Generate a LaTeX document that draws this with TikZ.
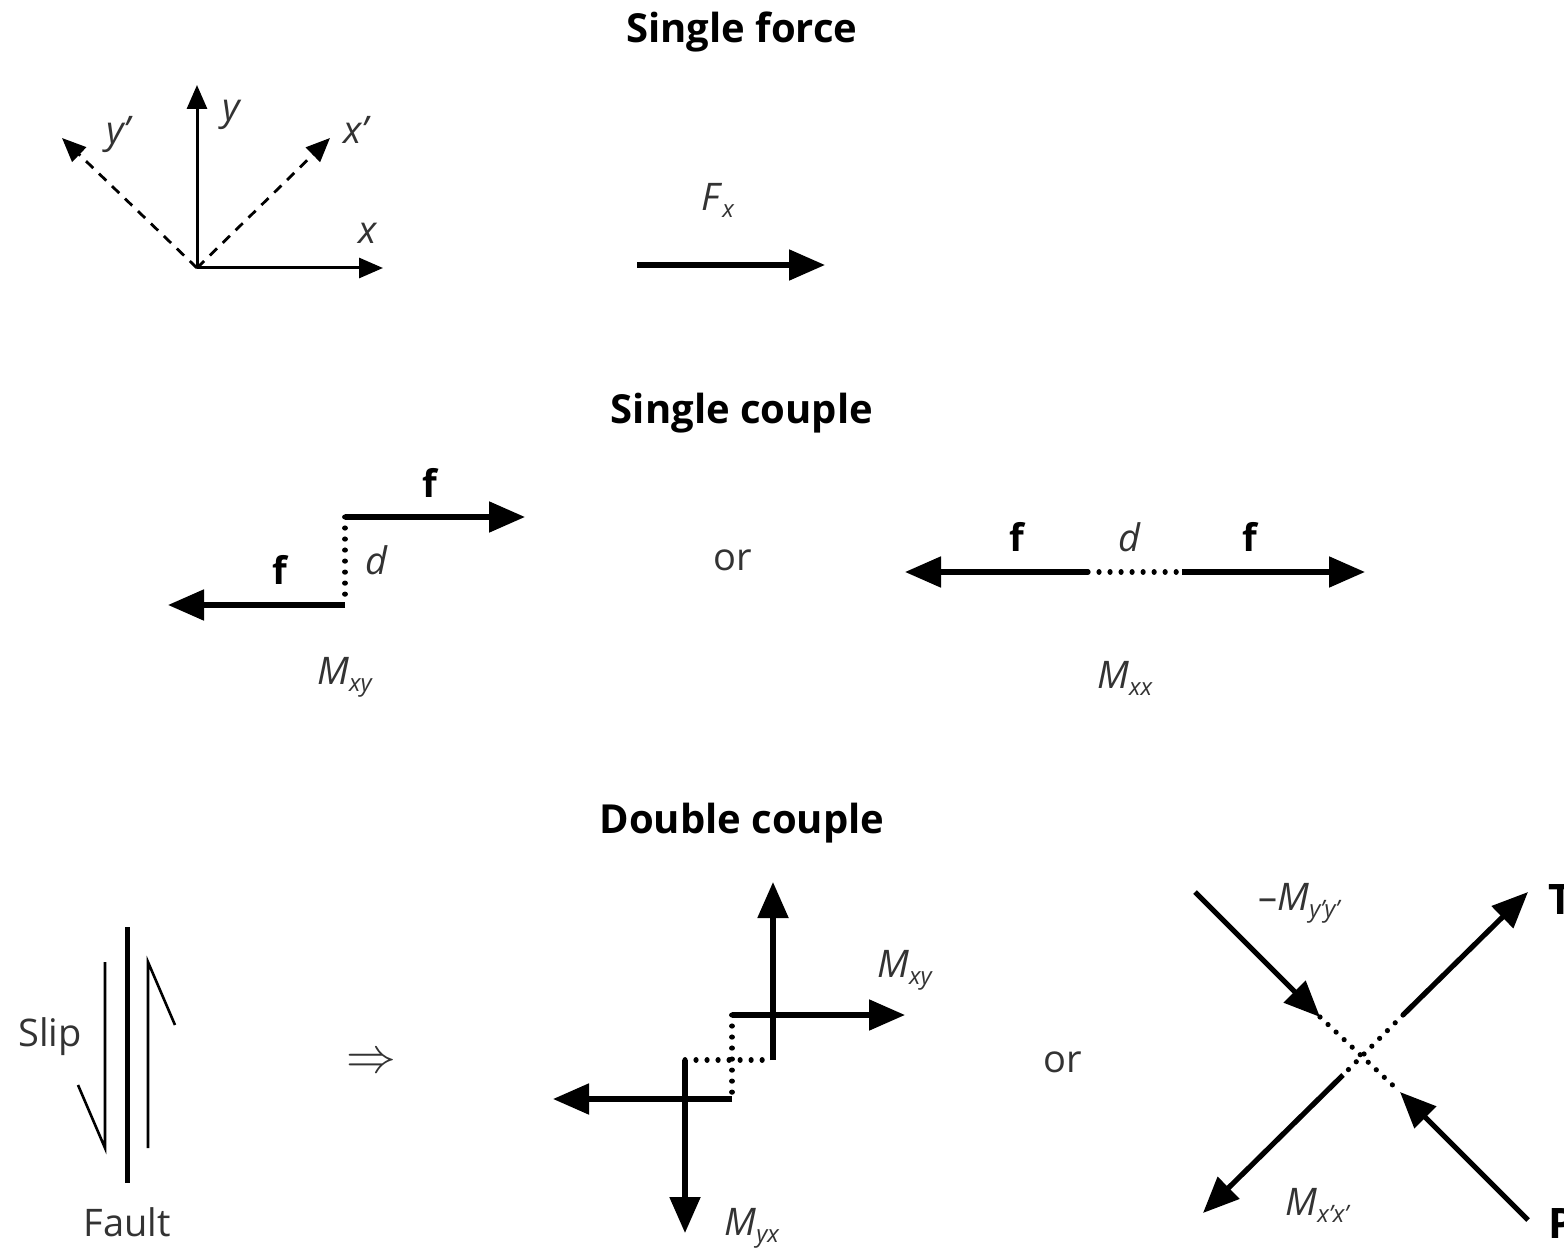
\documentclass[tikz,border=0pt]{standalone}
\usepackage{fontspec}
\setmainfont{Open Sans}
\usetikzlibrary{arrows.meta}
\newcommand{\lbsub}[2]{\textit{#1}\raisebox{-0.35ex}{\fontsize{12}{12}\selectfont\textit{#2}}}
\begin{document}
\begin{tikzpicture}[x=0.5pt,y=-0.5pt,
  title/.style={font=\fontsize{20}{24}\selectfont\bfseries, text=black},
  lab/.style={font=\fontsize{19}{22}\selectfont, text=black!80, inner sep=1pt},
  flab/.style={font=\fontsize{19}{22}\selectfont\bfseries, text=black, inner sep=1pt},
  force/.style={line width=2.6pt, -{Triangle[length=18pt,width=15pt]}},
  axis/.style={line width=1.5pt, -{Triangle[length=12pt,width=10pt]}},
  daxis/.style={line width=1.4pt, dash pattern=on 5pt off 4pt, -{Triangle[length=12pt,width=10pt]}},
  dots/.style={line width=2.6pt, line cap=round, dash pattern=on 0.01pt off 5.5pt},
  fthin/.style={line width=1.3pt},
  fthick/.style={line width=2.5pt}]
\useasboundingbox (0,0) rectangle (1564,1251);
\fill[white] (0,0) rectangle (1564,1251);

% titles
\node[title] (t1) at (742,32) {Single force};
\node[title] (t2) at (742,413) {Single couple};
\node[title] (t3) at (742,823) {Double couple};

% axes
\coordinate (o) at (197,268);
\coordinate (ye) at (197,85);
\coordinate (xe) at (383,268);
\coordinate (ype) at (62,138);
\coordinate (xpe) at (330,138);
\draw[axis] (o) -- (ye);
\draw[axis] (o) -- (xe);
\draw[daxis] (o) -- (ype);
\draw[daxis] (o) -- (xpe);
\node[lab] (ly) at (232,115) {\textit{y}};
\node[lab] (lyp) at (120,135) {\textit{y’}};
\node[lab] (lxp) at (357,130) {\textit{x’}};
\node[lab] (lx) at (368,233) {\textit{x}};

% single force
\coordinate (fa) at (637,265);
\coordinate (fb) at (825,265);
\draw[force] (fa) -- (fb);
\node[lab] (lfx) at (718,200) {\lbsub{F}{x}};

% single couple left
\coordinate (c1) at (345,517);
\coordinate (c1e) at (525,517);
\coordinate (c2) at (345,605);
\coordinate (c2e) at (168,605);
\draw[force] (c1) -- (c1e);
\draw[force] (c2) -- (c2e);
\draw[dots] (c1) -- (c2);
\node[flab] (f1) at (430,483) {f};
\node[flab] (f2) at (280,570) {f};
\node[lab] (d1) at (377,560) {\textit{d}};
\node[lab] (mxy1) at (345,677) {\lbsub{M}{xy}};

\node[lab] (or1) at (733,560) {or};

% single couple right
\coordinate (r1) at (1088,572);
\coordinate (r1e) at (905,572);
\coordinate (r2) at (1182,572);
\coordinate (r2e) at (1365,572);
\draw[force] (r1) -- (r1e);
\draw[force] (r2) -- (r2e);
\draw[dots] (r1) -- (r2);
\node[flab] (f3) at (1017,537) {f};
\node[lab] (d2) at (1130,537) {\textit{d}};
\node[flab] (f4) at (1250,537) {f};
\node[lab] (mxx) at (1125,678) {\lbsub{M}{xx}};

% fault
\coordinate (fta) at (127,927);
\coordinate (ftb) at (127,1183);
\draw[fthick] (fta) -- (ftb);
\coordinate (la) at (105,962);
\coordinate (lb) at (105,1148);
\coordinate (lc) at (78,1085);
\draw[fthin] (la) -- (lb) -- (lc);
\coordinate (ra) at (148,1148);
\coordinate (rb) at (148,962);
\coordinate (rc) at (175,1025);
\draw[fthin] (ra) -- (rb) -- (rc);
\node[lab] (slip) at (50,1037) {Slip};
\node[lab] (fault) at (127,1222) {Fault};
\node[lab, font=\fontsize{26}{26}\selectfont] (impl) at (371,1063) {$\Rightarrow$};

% double couple middle
\coordinate (ua) at (773,1060);
\coordinate (ub) at (773,882);
\coordinate (ra1) at (732,1015);
\coordinate (ra2) at (905,1015);
\coordinate (la1) at (732,1099);
\coordinate (la2) at (553,1099);
\coordinate (da) at (685,1060);
\coordinate (db) at (685,1233);
\draw[force] (ua) -- (ub);
\draw[force] (ra1) -- (ra2);
\draw[force] (la1) -- (la2);
\draw[force] (da) -- (db);
\draw[dots] (ra1) -- (la1);
\draw[dots] (da) -- (ua);
\node[lab] (mxy2) at (905,970) {\lbsub{M}{xy}};
\node[lab] (myx) at (752,1228) {\lbsub{M}{yx}};

\node[lab] (or2) at (1063,1062) {or};

% double couple right
\coordinate (c) at (1360,1058);
\coordinate (pa) at (1195,892);
\coordinate (pb) at (1320,1017);
\coordinate (qa) at (1528,1220);
\coordinate (qb) at (1400,1092);
\coordinate (ta) at (1403,1015);
\coordinate (tb) at (1528,892);
\coordinate (sa) at (1343,1075);
\coordinate (sb) at (1203,1213);
\draw[force] (pa) -- (pb);
\draw[force] (qa) -- (qb);
\draw[force] (ta) -- (tb);
\draw[force] (sa) -- (sb);
\draw[dots] (pb) -- (qb);
\draw[dots] (ta) -- (sa);
\node[lab] (myy) at (1300,903) {–\lbsub{M}{y’y’}};
\node[lab] (mxpx) at (1318,1205) {\lbsub{M}{x’x’}};
\node[flab, font=\fontsize{21}{24}\selectfont\bfseries, anchor=west] (tl) at (1546,900) {T};
\node[flab, font=\fontsize{21}{24}\selectfont\bfseries, anchor=west] (pl) at (1546,1224) {P};
\end{tikzpicture}
\end{document}
